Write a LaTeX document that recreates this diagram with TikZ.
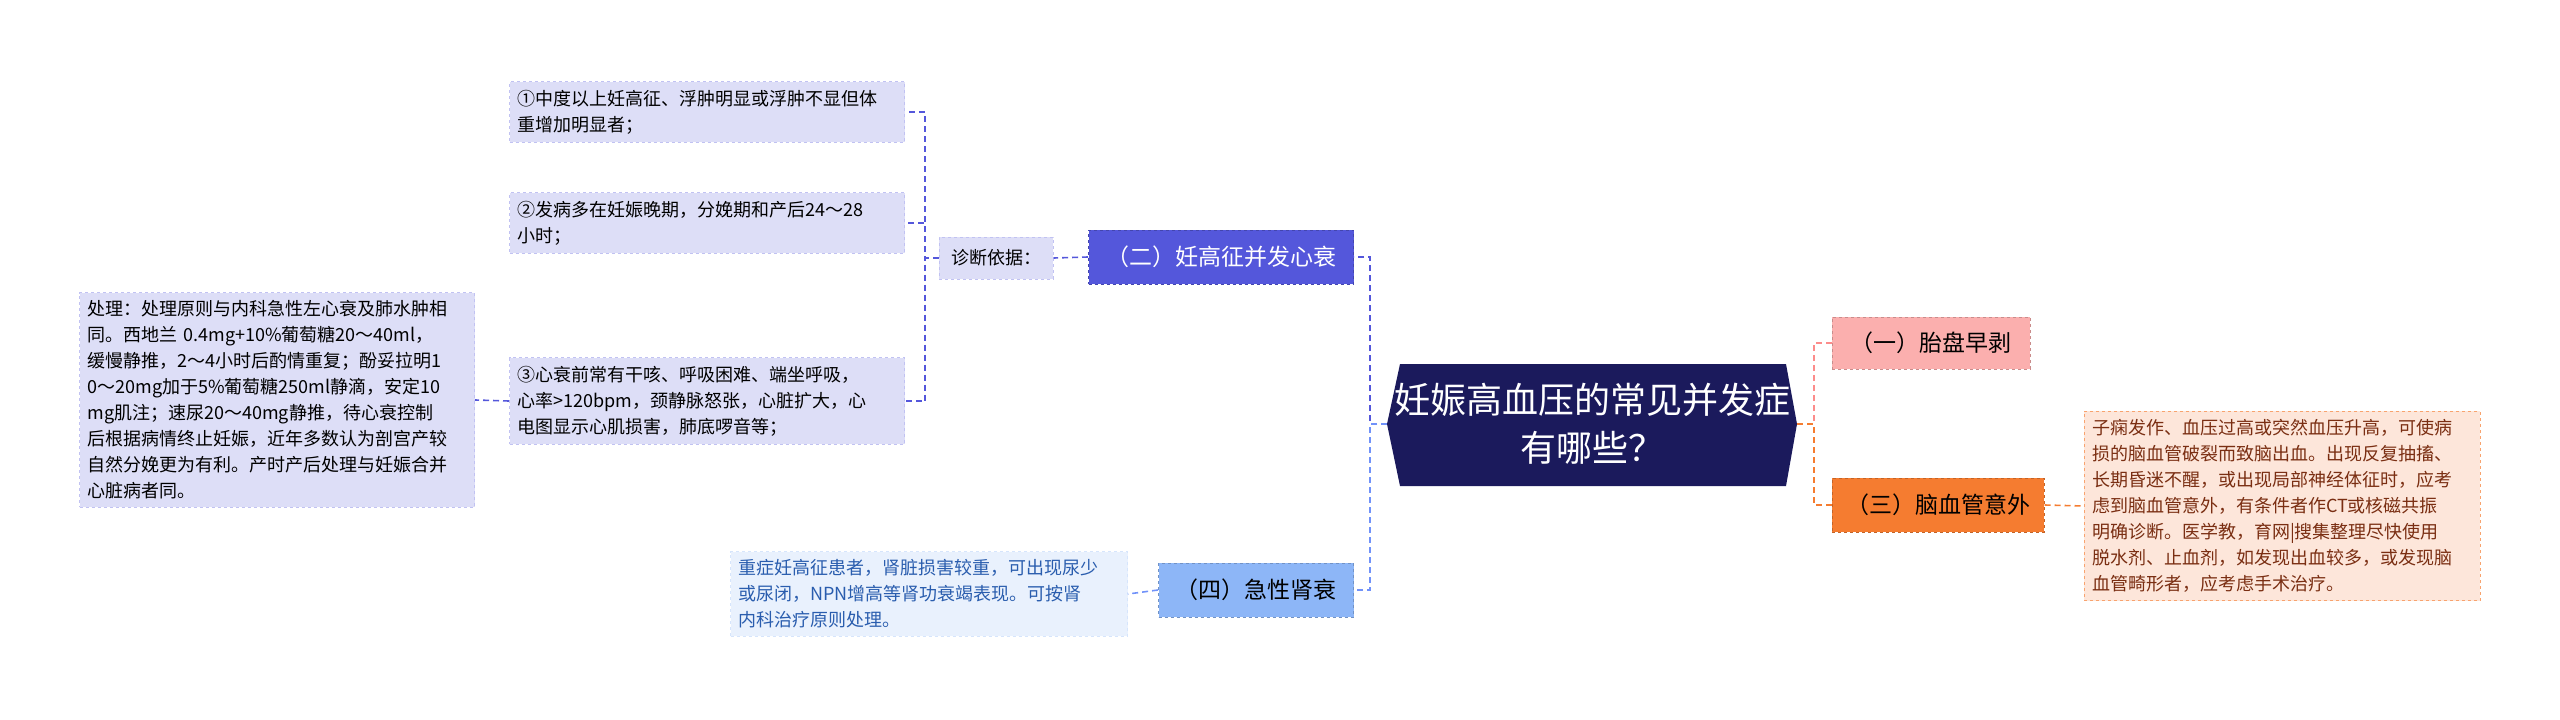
\documentclass[tikz,border=0pt]{standalone}
\usepackage{fontspec}
\setmainfont{Noto Sans CJK SC}
\usetikzlibrary{positioning}
\definecolor{navy}{HTML}{1B1A5C}
\definecolor{purp}{HTML}{5457DB}
\definecolor{lpurp}{HTML}{DDDEF7}
\definecolor{purpline}{HTML}{5457DB}
\definecolor{lblue}{HTML}{8DB6F7}
\definecolor{llblue}{HTML}{E9F1FD}
\definecolor{bluetxt}{HTML}{2A5DAE}
\definecolor{pink}{HTML}{FBAFAE}
\definecolor{orng}{HTML}{F57C30}
\definecolor{lorng}{HTML}{FDE6DA}
\definecolor{brown}{HTML}{7A2E12}
\tikzset{
  leaf/.style={draw=#1!70!white, dashed, line width=1pt, inner sep=8pt, align=left, anchor=center},
  small/.style={font=\fontsize{18}{26}\selectfont},
  cat/.style={draw=#1!80!black, dashed, line width=1pt, inner sep=0pt, font=\fontsize{23}{28}\selectfont, anchor=center},
  link/.style={dashed, line width=1.6pt, dash pattern=on 6pt off 4pt}
}
\begin{document}
\begin{tikzpicture}[x=1pt,y=-1pt]
\useasboundingbox (0,0) rectangle (2560,720);
% center
\fill[navy] (1400,364) -- (1786,364) -- (1797,424) -- (1786,486) -- (1400,486) -- (1387,424) -- cycle;
\node[font=\fontsize{36}{48}\selectfont, text=white, align=center] (c) at (1592,424) {妊娠高血压的常见并发症\\有哪些？};
\coordinate (cw) at (1387,424);
\coordinate (ce) at (1797,424);
% right
\node[cat=pink, fill=pink, minimum width=198pt, minimum height=52pt] (n1) at (1931,343) {（一）胎盘早剥};
\node[cat=orng, fill=orng, minimum width=212pt, minimum height=54pt] (n3) at (1938,505) {（三）脑血管意外};
\node[leaf=orng, fill=lorng, small, text=brown, text width=380pt] (n3a) at (2282,506) {子痫发作、血压过高或突然血压升高，可使病\\损的脑血管破裂而致脑出血。出现反复抽搐、\\长期昏迷不醒，或出现局部神经体征时，应考\\虑到脑血管意外，有条件者作CT或核磁共振\\明确诊断。医学教，育网|搜集整理尽快使用\\脱水剂、止血剂，如发现出血较多，或发现脑\\血管畸形者，应考虑手术治疗。};
\draw[link, pink!80!red] (ce) -- (1814,424) |- (n1.west);
\draw[link, orng] (ce) -- (1814,424) |- (n3.west);
\draw[link, orng] (n3.east) -- (n3a.west);
% left
\node[cat=purp, fill=purp, text=white, minimum width=265pt, minimum height=54pt] (n2) at (1221,257) {（二）妊高征并发心衰};
\node[cat=lblue, fill=lblue, minimum width=195pt, minimum height=54pt] (n4) at (1256,590) {（四）急性肾衰};
\draw[link, purpline] (cw) -- (1370,424) |- (n2.east);
\draw[link, lblue!80!blue] (cw) -- (1370,424) |- (n4.east);
\node[leaf=lpurp!60!purp, fill=lpurp, small, minimum width=114pt, minimum height=42pt, inner sep=4pt] (d) at (996,258) {诊断依据：};
\draw[link, purpline] (n2.west) -- (d.east);
\node[leaf=lpurp!60!purp, fill=lpurp, small, text width=379pt] (a1) at (707,112) {①中度以上妊高征、浮肿明显或浮肿不显但体\\重增加明显者；};
\node[leaf=lpurp!60!purp, fill=lpurp, small, text width=379pt] (a2) at (707,223) {②发病多在妊娠晚期，分娩期和产后24～28\\小时；};
\node[leaf=lpurp!60!purp, fill=lpurp, small, text width=379pt] (a3) at (707,401) {③心衰前常有干咳、呼吸困难、端坐呼吸，\\心率>120bpm，颈静脉怒张，心脏扩大，心\\电图显示心肌损害，肺底啰音等；};
\draw[link, purpline] (d.west) -- (925,258) |- (a1.east);
\draw[link, purpline] (d.west) -- (925,258) |- (a2.east);
\draw[link, purpline] (d.west) -- (925,258) |- (a3.east);
\node[leaf=lpurp!60!purp, fill=lpurp, small, text width=379pt] (t) at (277,400) {处理：处理原则与内科急性左心衰及肺水肿相\\同。西地兰 0.4mg+10\%葡萄糖20～40ml，\\缓慢静推，2～4小时后酌情重复；酚妥拉明1\\0～20mg加于5\%葡萄糖250ml静滴，安定10\\mg肌注；速尿20～40mg静推，待心衰控制\\后根据病情终止妊娠，近年多数认为剖宫产较\\自然分娩更为有利。产时产后处理与妊娠合并\\心脏病者同。};
\draw[link, purpline] (a3.west) -- (t.east);
\node[leaf=llblue!60!lblue, fill=llblue, small, text=bluetxt, text width=381pt] (n4a) at (929,594) {重症妊高征患者，肾脏损害较重，可出现尿少\\或尿闭，NPN增高等肾功衰竭表现。可按肾\\内科治疗原则处理。};
\draw[link, lblue!80!blue] (n4.west) -- (n4a.east);
\end{tikzpicture}
\end{document}
